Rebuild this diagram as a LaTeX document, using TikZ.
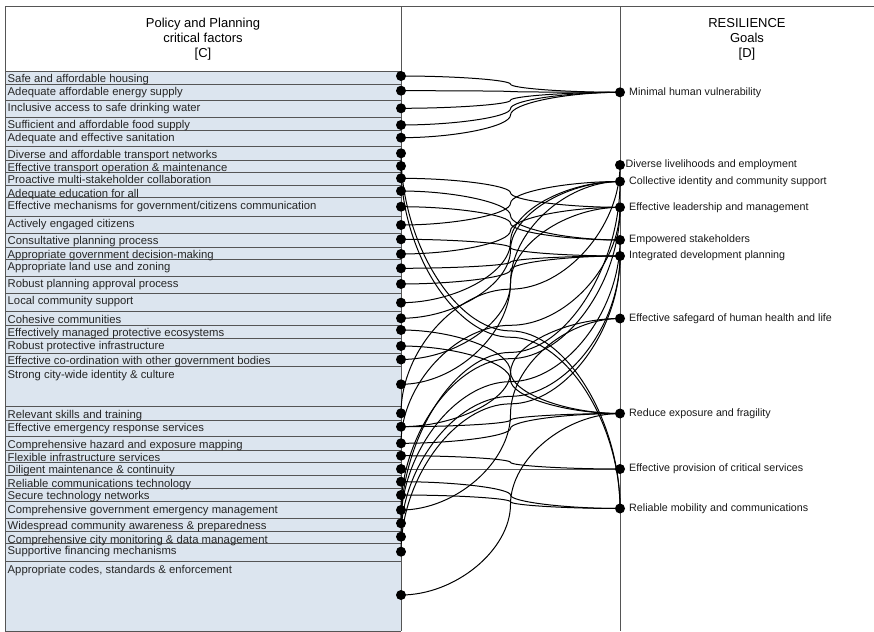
\documentclass[tikz,border=0pt]{standalone}
\usepackage{fontspec}
\setmainfont{Liberation Sans}
\usetikzlibrary{calc}
\definecolor{rowblue}{HTML}{DCE5EF}
\definecolor{framegray}{HTML}{555555}
\tikzset{
  dot/.style={circle,fill=black,inner sep=0pt,minimum size=10pt},
  edge/.style={draw=black,line width=1pt},
  lefttext/.style={anchor=base west,inner sep=0pt,font=\fontsize{11.3}{13}\selectfont,text=black!85},
  righttext/.style={anchor=west,inner sep=0pt,font=\fontsize{10.7}{12}\selectfont,text=black!90},
  head/.style={align=center,font=\fontsize{13}{15}\selectfont,inner sep=0pt},
  rowline/.style={draw=framegray,line width=0.8pt},
  frameline/.style={draw=framegray,line width=1pt},
}
\newcommand\kk{0.5}
\newcommand\rowbox[5]{%
  \draw[rowline] (5,-#2) -- (401,-#2);
  \node[lefttext] (t#5) at (7.5,-#1-11.3) {#3};
  \node[dot] (#5) at (401,-#4) {};
}
\newcommand\goal[4]{%
  \node[dot] (#1) at (620,-#2) {};
  \node[righttext] (g#1) at (#3,-#2) {#4};
}
\newcommand\conn[2]{%
  \draw[edge] let \p1=(#1.center), \p2=(#2.center), \p3=($(\p1)!0.5!(\p2)$),
    \n1={ifthenelse(abs(\y2-\y1)>219,1,0)}, \n2={\x3-\x1}, \n3={\y3-\y1} in
    (\p1) .. controls ({\x1+(1-\n1)*\kk*\n2},{\y1+\n1*\kk*\n3}) and ({\x3-\n1*\kk*\n2},{\y3-(1-\n1)*\kk*\n3}) .. (\p3)
    .. controls ({\x3+\n1*\kk*\n2},{\y3+(1-\n1)*\kk*\n3}) and ({\x2-(1-\n1)*\kk*\n2},{\y2-\n1*\kk*\n3}) .. (\p2);%
}
\begin{document}
\begin{tikzpicture}[x=1pt,y=1pt]
\useasboundingbox (0,0) rectangle (874,-631);
\fill[white] (0,0) rectangle (874,-631);
% left column background
\fill[rowblue] (5,-71) rectangle (401,-631);
\draw[rowline] (5,-71) -- (401,-71);
% frame
\draw[frameline] (5,-631) -- (5,-7) -- (874,-7);
\draw[frameline] (401,-7) -- (401,-631);
\draw[frameline] (620,-7) -- (620,-631);
% headers
\node[head] (hC) at (203,-39) {Policy and Planning\\critical factors\\{[C]}};
\node[head] (hD) at (747,-39) {RESILIENCE\\Goals\\{[D]}};
% rows
\rowbox{71}{84}{Safe and affordable housing}{76}{L1}
\rowbox{84}{100}{Adequate affordable energy supply}{90.7}{L2}
\rowbox{100}{117.7}{Inclusive access to safe drinking water}{108.3}{L3}
\rowbox{117.7}{130.7}{Sufficient and affordable food supply}{125}{L4}
\rowbox{130.7}{146.7}{Adequate and effective sanitation}{137.7}{L5}
\rowbox{146.7}{160}{Diverse and affordable transport networks}{153.3}{L6}
\rowbox{160}{172.3}{Effective transport operation \& maintenance}{166}{L7}
\rowbox{172.3}{185.7}{Proactive multi-stakeholder collaboration}{178.3}{L8}
\rowbox{185.7}{197.7}{Adequate education for all}{191}{L9}
\rowbox{197.7}{216}{Effective mechanisms for government/citizens communication}{206.7}{L10}
\rowbox{216}{233.3}{Actively engaged citizens}{225}{L11}
\rowbox{233.3}{247.3}{Consultative planning process}{239.3}{L12}
\rowbox{247.3}{259.3}{Appropriate government decision-making}{254}{L13}
\rowbox{259.3}{276}{Appropriate land use and zoning}{268.3}{L14}
\rowbox{276}{293.3}{Robust planning approval process}{284}{L15}
\rowbox{293.3}{311.7}{Local community support}{302.7}{L16}
\rowbox{311.7}{325}{Cohesive communities}{318.3}{L17}
\rowbox{325}{338.3}{Effectively managed protective ecosystems}{330}{L18}
\rowbox{338.3}{353.3}{Robust protective infrastructure}{346}{L19}
\rowbox{353.3}{366.7}{Effective co-ordination with other government bodies}{359.5}{L20}
\rowbox{366.7}{406.7}{Strong city-wide identity \& culture}{384.3}{L21}
\rowbox{406.7}{420}{Relevant skills and training}{413.3}{L22}
\rowbox{420}{436.7}{Effective emergency response services}{426.7}{L23}
\rowbox{436.7}{450}{Comprehensive hazard and exposure mapping}{443.3}{L24}
\rowbox{450}{462.3}{Flexible infrastructure services}{455.7}{L25}
\rowbox{462.3}{475.7}{Diligent maintenance \& continuity}{469}{L26}
\rowbox{475.7}{488.3}{Reliable communications technology}{481.7}{L27}
\rowbox{488.3}{501.7}{Secure technology networks}{495}{L28}
\rowbox{501.7}{518.3}{Comprehensive government emergency management}{510}{L29}
\rowbox{518.3}{531.7}{Widespread community awareness \& preparedness}{523.3}{L30}
\rowbox{531.7}{543.3}{Comprehensive city monitoring \& data management}{536.7}{L31}
\rowbox{543.3}{561.7}{Supportive financing mechanisms}{551.7}{L32}
\rowbox{561.7}{631}{Appropriate codes, standards \& enforcement}{595}{L33}
% goals
\goal{R1}{92.3}{629}{Minimal human vulnerability}
\goal{R2}{165}{625.5}{Diverse livelihoods and employment}
\goal{R3}{181.5}{629}{Collective identity and community support}
\goal{R4}{207.3}{629}{Effective leadership and management}
\goal{R5}{240}{629}{Empowered stakeholders}
\goal{R6}{256}{629}{Integrated development planning}
\goal{R7}{318.5}{629}{Effective safegard of human health and life}
\goal{R8}{413.5}{629}{Reduce exposure and fragility}
\goal{R9}{469}{629}{Effective provision of critical services}
\goal{R10}{508.5}{629}{Reliable mobility and communications}
% connectors
\conn{L1}{R1}\conn{L2}{R1}\conn{L3}{R1}\conn{L4}{R1}\conn{L5}{R1}
\conn{L6}{R10}\conn{L7}{R10}
\conn{L8}{R4}
\conn{L9}{R5}\conn{L10}{R5}
\conn{L11}{R3}
\conn{L12}{R6}
\conn{L13}{R4}
\conn{L14}{R6}\conn{L15}{R6}
\conn{L16}{R3}\conn{L17}{R3}
\conn{L18}{R8}\conn{L19}{R8}
\conn{L20}{R4}
\conn{L21}{R3}
\conn{L22}{R2}
\conn{L23}{R8}\conn{L23}{R7}
\conn{L24}{R8}\conn{L24}{R4}
\conn{L25}{R9}\conn{L26}{R9}
\conn{L27}{R10}\conn{L28}{R10}
\conn{L29}{R4}\conn{L29}{R7}
\conn{L30}{R5}\conn{L30}{R3}
\conn{L31}{R6}\conn{L32}{R6}
\conn{L33}{R8}
\end{tikzpicture}
\end{document}
